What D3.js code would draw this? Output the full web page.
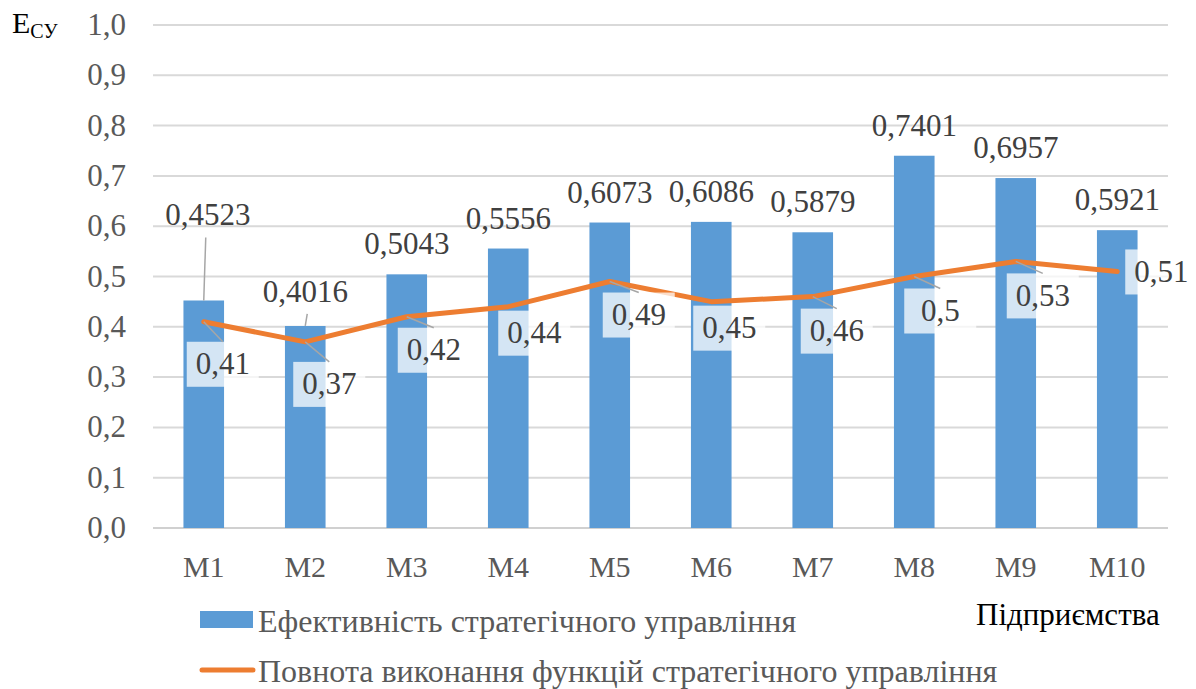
<!DOCTYPE html>
<html>
<head>
<meta charset="utf-8">
<script src="https://cdn.jsdelivr.net/npm/d3@7"></script>
<style>
  body { margin: 0; background: #fff; }
</style>
</head>
<body>
<div id="chart"></div>
<script>
// categories and values
const categories = ["M1", "M2", "M3", "M4", "M5", "M6", "M7", "M8", "M9", "M10"];
const efficiency = [0.4523, 0.4016, 0.5043, 0.5556, 0.6073, 0.6086, 0.5879, 0.7401, 0.6957, 0.5921];
const completeness = [0.41, 0.37, 0.42, 0.44, 0.49, 0.45, 0.46, 0.5, 0.53, 0.51];
const yTicks = [0, 0.1, 0.2, 0.3, 0.4, 0.5, 0.6, 0.7, 0.8, 0.9, 1.0];
const barSeriesName = "Ефективність стратегічного управління";
const lineSeriesName = "Повнота виконання функцій стратегічного управління";

// label placement (manually moved labels, like in the source chart)
const barLabelDy = [-75, -24, -20, -20, -20, -20, -20, -20, -20, -20];
const lineLabelOffset = [[-17, 20], [-12, 20], [-9, 11], [-10, 4], [-7, 11],
  [-18, 4], [-12, 12], [-10, 12], [-9, 12], [8, -22]];

const width = 1196, height = 689;
const margin = { top: 25, right: 28, bottom: 161, left: 153 };
const innerW = width - margin.left - margin.right;
const innerH = height - margin.top - margin.bottom;
const serif = "Liberation Serif";

const fmt = v => String(v).replace(".", ",");

const svg = d3.select("#chart")
  .append("svg")
  .attr("xmlns", "http://www.w3.org/2000/svg")
  .attr("width", width)
  .attr("height", height)
  .attr("font-family", serif);

const g = svg.append("g")
  .attr("transform", "translate(" + margin.left + "," + margin.top + ")");

const x = d3.scaleBand()
  .domain(categories)
  .range([0, innerW])
  .paddingInner(0.6)
  .paddingOuter(0.3);

const y = d3.scaleLinear().domain([0, 1]).range([innerH, 0]);

// grid
g.append("g")
  .selectAll("line")
  .data(yTicks)
  .join("line")
  .attr("x1", 0)
  .attr("x2", innerW)
  .attr("y1", d => y(d))
  .attr("y2", d => y(d))
  .attr("stroke", d => d === 0 ? "#d0d0d0" : "#d9d9d9")
  .attr("stroke-width", 2);

// y axis labels
g.append("g")
  .selectAll("text")
  .data(yTicks)
  .join("text")
  .attr("x", -27)
  .attr("y", d => y(d) + 10)
  .attr("text-anchor", "end")
  .attr("fill", "#595959")
  .attr("font-family", serif)
  .attr("font-size", 31)
  .text(d => d3.format(".1f")(d).replace(".", ","));

// x axis labels
g.append("g")
  .selectAll("text")
  .data(categories)
  .join("text")
  .attr("x", d => x(d) + x.bandwidth() / 2)
  .attr("y", innerH + 49)
  .attr("text-anchor", "middle")
  .attr("fill", "#595959")
  .attr("font-family", serif)
  .attr("font-size", 30)
  .text(d => d);

// bars
g.append("g")
  .selectAll("rect")
  .data(efficiency)
  .join("rect")
  .attr("x", (d, i) => x(categories[i]))
  .attr("y", d => y(d))
  .attr("width", x.bandwidth())
  .attr("height", d => innerH - y(d))
  .attr("fill", "#5b9bd5");

const cx = i => x(categories[i]) + x.bandwidth() / 2;

// bar label leader lines (only for moved labels)
g.append("g")
  .selectAll("line")
  .data(efficiency.map((d, i) => ({ d, i })).filter(o => barLabelDy[o.i] < -22))
  .join("line")
  .attr("x1", o => cx(o.i))
  .attr("y1", o => y(o.d))
  .attr("x2", o => cx(o.i) + 2)
  .attr("y2", o => y(o.d) + barLabelDy[o.i] + 12)
  .attr("stroke", "#a6a6a6")
  .attr("stroke-width", 1.5);

// bar labels
g.append("g")
  .selectAll("text")
  .data(efficiency)
  .join("text")
  .attr("x", (d, i) => cx(i) + (barLabelDy[i] < -40 ? 4 : 0))
  .attr("y", (d, i) => y(d) + barLabelDy[i])
  .attr("text-anchor", "middle")
  .attr("fill", "#404040")
  .attr("font-family", serif)
  .attr("font-size", 31)
  .text(d => fmt(d));

// line
const line = d3.line()
  .x((d, i) => cx(i))
  .y(d => y(d));

g.append("path")
  .datum(completeness)
  .attr("d", line)
  .attr("fill", "none")
  .attr("stroke", "#ed7d31")
  .attr("stroke-width", 5)
  .attr("stroke-linejoin", "round")
  .attr("stroke-linecap", "round");

// line labels
const boxW = 72, boxH = 45;
const lbl = g.append("g")
  .selectAll("g")
  .data(completeness)
  .join("g")
  .attr("transform", (d, i) => "translate(" + (cx(i) + lineLabelOffset[i][0]) + "," + (y(d) + lineLabelOffset[i][1]) + ")");

lbl.append("rect")
  .attr("width", boxW)
  .attr("height", boxH)
  .attr("fill", "#fff")
  .attr("fill-opacity", 0.74);

lbl.append("text")
  .attr("x", boxW / 2)
  .attr("y", boxH / 2 + 10)
  .attr("text-anchor", "middle")
  .attr("fill", "#404040")
  .attr("font-family", serif)
  .attr("font-size", 31)
  .text(d => fmt(d));

// leader lines for line labels
g.append("g")
  .selectAll("line")
  .data(completeness.map((d, i) => ({ d, i })).filter(o => lineLabelOffset[o.i][1] > 8))
  .join("line")
  .attr("x1", o => cx(o.i))
  .attr("y1", o => y(o.d))
  .attr("x2", o => cx(o.i) + lineLabelOffset[o.i][0] + boxW / 2)
  .attr("y2", o => y(o.d) + lineLabelOffset[o.i][1])
  .attr("stroke", "#a6a6a6")
  .attr("stroke-width", 1.5);

// axis titles
const yTitle = svg.append("text")
  .attr("x", 12)
  .attr("y", 33)
  .attr("fill", "#000")
  .attr("font-family", serif)
  .attr("font-size", 30);
yTitle.append("tspan").text("Е");
yTitle.append("tspan")
  .attr("dy", 5)
  .attr("font-size", 20)
  .text("СУ");

svg.append("text")
  .attr("x", 976)
  .attr("y", 625)
  .attr("fill", "#000")
  .attr("font-family", serif)
  .attr("font-size", 31)
  .text("Підприємства");

// legend
const legend = svg.append("g");
legend.append("rect")
  .attr("x", 200)
  .attr("y", 611)
  .attr("width", 53)
  .attr("height", 17)
  .attr("fill", "#5b9bd5");
legend.append("text")
  .attr("x", 258)
  .attr("y", 632)
  .attr("fill", "#595959")
  .attr("font-family", serif)
  .attr("font-size", 32)
  .text(barSeriesName);
legend.append("line")
  .attr("x1", 202)
  .attr("x2", 253)
  .attr("y1", 670)
  .attr("y2", 670)
  .attr("stroke", "#ed7d31")
  .attr("stroke-width", 5)
  .attr("stroke-linecap", "round");
legend.append("text")
  .attr("x", 258)
  .attr("y", 682)
  .attr("fill", "#595959")
  .attr("font-family", serif)
  .attr("font-size", 32)
  .text(lineSeriesName);
</script>
</body>
</html>
